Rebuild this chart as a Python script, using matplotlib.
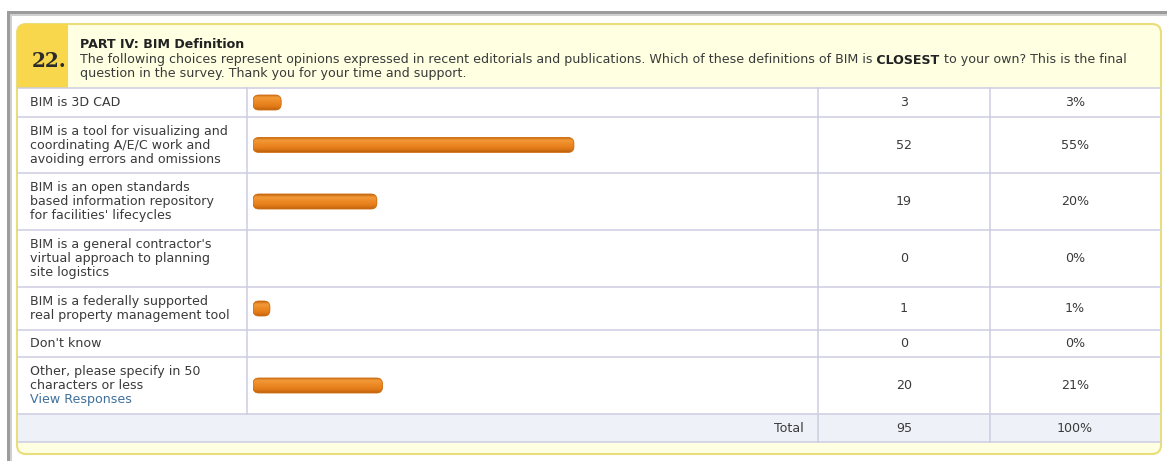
import numpy as np
import matplotlib
matplotlib.use('Agg')
import matplotlib.pyplot as plt
from matplotlib.patches import FancyBboxPatch, Rectangle
from matplotlib.colors import LinearSegmentedColormap

W, H = 1167, 461

question_no = "22."
title = "PART IV: BIM Definition"
desc_1a = "The following choices represent opinions expressed in recent editorials and publications. Which of these definitions of BIM is"
desc_1b = " CLOSEST"
desc_1c = " to your own? This is the final"
desc_2 = "question in the survey. Thank you for your time and support."

answers = [
    "BIM is 3D CAD",
    "BIM is a tool for visualizing and\ncoordinating A/E/C work and\navoiding errors and omissions",
    "BIM is an open standards\nbased information repository\nfor facilities' lifecycles",
    "BIM is a general contractor's\nvirtual approach to planning\nsite logistics",
    "BIM is a federally supported\nreal property management tool",
    "Don't know",
    "Other, please specify in 50\ncharacters or less",
]
has_link = [False, False, False, False, False, False, True]
link_text = "View Responses"
counts = [3, 52, 19, 0, 1, 0, 20]
percents = [3, 55, 20, 0, 1, 0, 21]
total_label = "Total"
total_count = 95
total_percent = 100

# layout in pixels
row_edges = [88, 117, 173, 230, 287, 330, 357, 414]
total_row = (414, 442)
col_x = [18, 247, 818, 990, 1160]
line_h = 14
fs = 9.1
txt_col = '#3a3a3a'
grid_col = '#cdcde2'

fig = plt.figure(figsize=(W / 100, H / 100), dpi=100)
ax = fig.add_axes([0, 0, 1, 1])
ax.set_xlim(0, W)
ax.set_ylim(H, 0)
ax.axis('off')

# outer gray frame
ax.add_patch(Rectangle((7, 11), W - 7, 3, fc='#9c9c9c', ec='none'))
ax.add_patch(Rectangle((7, 14), W - 7, 2, fc='#cfcfcf', ec='none'))
ax.add_patch(Rectangle((7, 11), 2.5, H - 11, fc='#9c9c9c', ec='none'))
ax.add_patch(Rectangle((9.5, 14), 2.5, H - 14, fc='#cfcfcf', ec='none'))

# yellow panel
panel = FancyBboxPatch((17, 24), 1144, 430, boxstyle='round,pad=0,rounding_size=9',
                       fc='#ffffe1', ec='#e9dd7c', lw=1.5, zorder=1)
ax.add_patch(panel)
badge = Rectangle((17, 24), 51, 64, fc='#f9d74c', ec='none', zorder=1.1)
ax.add_patch(badge)
badge.set_clip_path(panel)

# table body
top, bottom = row_edges[0], row_edges[-1]
ax.add_patch(Rectangle((col_x[0], top), col_x[-1] - col_x[0], bottom - top, fc='white', ec='none', zorder=1.2))
ax.add_patch(Rectangle((col_x[0], total_row[0]), col_x[-1] - col_x[0], total_row[1] - total_row[0],
                       fc='#eef2f8', ec='none', zorder=1.2))
for y in row_edges + [total_row[1]]:
    ax.plot([col_x[0], col_x[-1]], [y, y], color=grid_col, lw=1.1, zorder=2)
ax.plot([col_x[1], col_x[1]], [top, bottom], color=grid_col, lw=1.1, zorder=2)
for x in col_x[2:4]:
    ax.plot([x, x], [top, total_row[1]], color=grid_col, lw=1.1, zorder=2)

# header
ax.text(32, 61, question_no, fontsize=14.5, fontweight='bold', family='DejaVu Serif',
        color='#2b2b2b', va='center', ha='left', zorder=3)
ax.text(80, 44, title, fontsize=fs, fontweight='bold', color='#222222', va='center', zorder=3)
t1 = ax.text(80, 60, desc_1a, fontsize=fs, color=txt_col, va='center', zorder=3)
t2 = ax.annotate(desc_1b, xy=(1, 0), xycoords=t1, va='bottom', fontsize=fs,
                 fontweight='bold', color='#222222', zorder=3)
ax.annotate(desc_1c, xy=(1, 0), xycoords=t2, va='bottom', fontsize=fs, color=txt_col, zorder=3)
ax.text(80, 74, desc_2, fontsize=fs, color=txt_col, va='center', zorder=3)

# rows
centers = [(a + b) / 2 for a, b in zip(row_edges[:-1], row_edges[1:])]
count_x = (col_x[2] + col_x[3]) / 2
pct_x = (col_x[3] + col_x[4]) / 2
for yc, label, link, c, p in zip(centers, answers, has_link, counts, percents):
    lines = label.split('\n')
    colors = [txt_col] * len(lines)
    if link:
        lines.append(link_text)
        colors.append('#3f709b')
    n = len(lines)
    for j, (ln, col) in enumerate(zip(lines, colors)):
        ax.text(30, yc + (j - (n - 1) / 2) * line_h, ln, fontsize=fs, color=col, va='center', zorder=3)
    ax.text(count_x, yc, str(c), fontsize=fs, color=txt_col, ha='center', va='center', zorder=3)
    ax.text(pct_x, yc, f"{p}%", fontsize=fs, color=txt_col, ha='center', va='center', zorder=3)

yt = sum(total_row) / 2
ax.text(col_x[2] - 14, yt, total_label, fontsize=fs, color=txt_col, ha='right', va='center', zorder=3)
ax.text(count_x, yt, str(total_count), fontsize=fs, color=txt_col, ha='center', va='center', zorder=3)
ax.text(pct_x, yt, f"{total_percent}%", fontsize=fs, color=txt_col, ha='center', va='center', zorder=3)

# bars: x axis in percent
bar_left = 253
px_per_pct = 5.63
cap = 2.0
bar_h = 15
rnd = 1.05
ax_bar = fig.add_axes([bar_left / W, 0, (col_x[2] - bar_left) / W, 1])
ax_bar.patch.set_alpha(0)
ax_bar.axis('off')
cmap = LinearSegmentedColormap.from_list('bar', ['#c2620c', '#f29a38', '#ef8e2a', '#ea8420', '#e07816', '#bf630e'])
grad = np.linspace(0, 1, 40).reshape(-1, 1)
for yc, p in zip(centers, percents):
    if p <= 0:
        continue
    box = FancyBboxPatch((0, yc - bar_h / 2), p + cap, bar_h,
                         boxstyle=f'round,pad=0,rounding_size={rnd}', mutation_aspect=px_per_pct,
                         fc='#ea8420', ec='none', zorder=3)
    ax_bar.add_patch(box)
    im = ax_bar.imshow(grad, cmap=cmap, extent=(0, p + cap, yc + bar_h / 2, yc - bar_h / 2),
                       aspect='auto', interpolation='bilinear', zorder=3.1)
    im.set_clip_path(box)
    ax_bar.add_patch(FancyBboxPatch((0, yc - bar_h / 2), p + cap, bar_h,
                                    boxstyle=f'round,pad=0,rounding_size={rnd}', mutation_aspect=px_per_pct,
                                    fc='none', ec='#cf7014', lw=0.6, zorder=3.2))
ax_bar.set_xlim(0, (col_x[2] - bar_left) / px_per_pct)
ax_bar.set_ylim(H, 0)

fig.savefig('out.png', dpi=100, facecolor='white')
